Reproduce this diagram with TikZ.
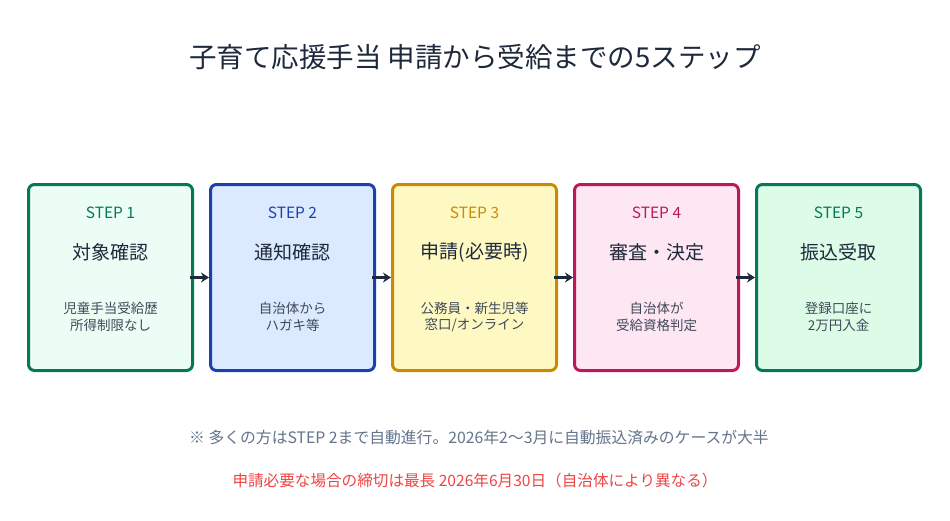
\documentclass[tikz,border=0pt]{standalone}
\usepackage{fontspec}
\setmainfont{Noto Sans CJK JP}
\usetikzlibrary{arrows.meta}
\definecolor{ink}{HTML}{1E293B}
\definecolor{gray1}{HTML}{64748B}
\definecolor{redt}{HTML}{EF4444}
\definecolor{bA}{HTML}{047857}\definecolor{fA}{HTML}{ECFDF5}
\definecolor{bB}{HTML}{1E40AF}\definecolor{fB}{HTML}{DBEAFE}
\definecolor{bC}{HTML}{CA8A04}\definecolor{fC}{HTML}{FEF9C3}
\definecolor{bD}{HTML}{BE185D}\definecolor{fD}{HTML}{FCE7F3}
\definecolor{bE}{HTML}{047857}\definecolor{fE}{HTML}{DCFCE7}
\tikzset{
  stepbox/.style={draw=#1, line width=3pt, rounded corners=6pt, minimum width=164pt, minimum height=186pt, inner sep=0pt},
  steplbl/.style={font=\fontsize{15.5}{18}\selectfont, text=#1},
  steptitle/.style={font=\fontsize{19}{22}\selectfont, text=ink},
  stepsub/.style={font=\fontsize{13.5}{16.5}\selectfont, text=ink!85, align=center},
  conn/.style={draw=ink, line width=3pt, -{Stealth[length=8pt,width=10pt]}},
}
\begin{document}
\begin{tikzpicture}[x=1pt,y=-1pt]
\useasboundingbox (0,0) rectangle (950,520);
\fill[white] (0,0) rectangle (950,520);
\node[font=\fontsize{27.5}{32}\selectfont, text=ink] (title) at (475,57) {子育て応援手当 申請から受給までの5ステップ};
\foreach \i/\x/\b/\f/\lbl/\ttl/\subA/\subB in {
  1/110.5/bA/fA/STEP 1/対象確認/児童手当受給歴/所得制限なし,
  2/292.5/bB/fB/STEP 2/通知確認/自治体から/ハガキ等,
  3/474.5/bC/fC/STEP 3/申請(必要時)/公務員・新生児等/{窓口/オンライン},
  4/656.5/bD/fD/STEP 4/審査・決定/自治体が/受給資格判定,
  5/838.5/bE/fE/STEP 5/振込受取/登録口座に/2万円入金}{
  \node[stepbox=\b, fill=\f] (box\i) at (\x,277.5) {};
  \node[steplbl=\b] (lbl\i) at (\x,213) {\lbl};
  \node[steptitle] (ttl\i) at (\x,252) {\ttl};
  \node[stepsub] (sub\i) at (\x,317) {\subA\\\subB};
}
\foreach \a/\b in {1/2,2/3,3/4,4/5}{
  \draw[conn] ([xshift=-4pt]box\a.east) -- (box\b.west);
}
\node[font=\fontsize{15.8}{19}\selectfont, text=gray1] (note) at (479,438) {※ 多くの方はSTEP 2まで自動進行。2026年2〜3月に自動振込済みのケースが大半};
\node[font=\fontsize{15.6}{19}\selectfont, text=redt] (dead) at (475,481) {申請必要な場合の締切は最長 2026年6月30日（自治体により異なる）};
\end{tikzpicture}
\end{document}
